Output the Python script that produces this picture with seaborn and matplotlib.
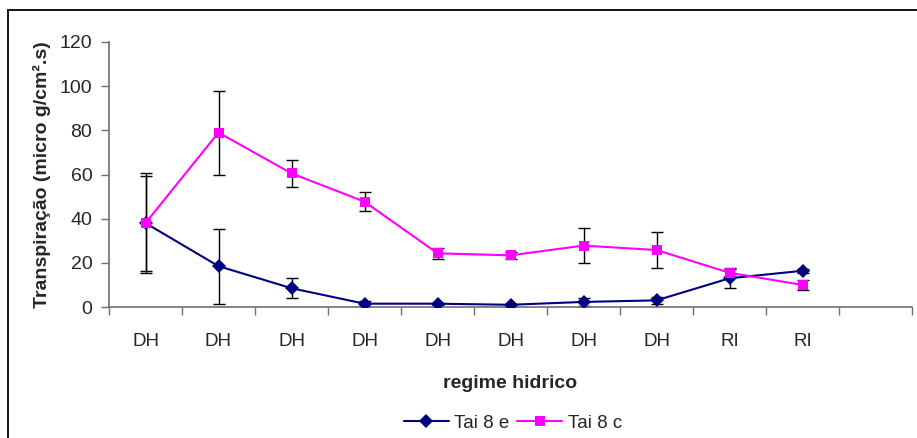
import numpy as np
import pandas as pd
import matplotlib.pyplot as plt
import seaborn as sns
from matplotlib.lines import Line2D
from matplotlib.patches import Rectangle

# Data
categories = ["DH", "DH", "DH", "DH", "DH", "DH", "DH", "DH", "RI", "RI"]
tai8e = [38.0, 18.5, 8.5, 1.5, 1.5, 1.0, 2.3, 3.0, 13.0, 16.4]
tai8e_err = [21.5, 17.0, 4.5, 1.0, 0.5, 0.5, 2.0, 1.5, 4.5, 1.0]
tai8c = [38.0, 79.0, 60.5, 47.7, 24.3, 23.4, 27.8, 25.8, 15.5, 10.0]
tai8c_err = [22.5, 19.0, 6.0, 4.4, 2.5, 1.5, 8.0, 8.0, 1.5, 2.4]
series = ["Tai 8 e", "Tai 8 c"]
colors = {"Tai 8 e": "#000080", "Tai 8 c": "#FF00FF"}
markers = {"Tai 8 e": "D", "Tai 8 c": "s"}

pos = np.arange(len(categories))
df = pd.DataFrame({
    "pos": np.concatenate([pos, pos]),
    "value": tai8e + tai8c,
    "serie": [series[0]] * len(pos) + [series[1]] * len(pos),
})

sns.set_style("ticks")
plt.rcParams["font.family"] = ["Liberation Sans", "DejaVu Sans"]

fig = plt.figure(figsize=(9.17, 4.38), dpi=100)
ax = fig.add_axes([109 / 917, 1 - 307 / 438, (912 - 109) / 917, (307 - 42) / 438])

# error bars first, underneath the markers
for vals, errs in [(tai8e, tai8e_err), (tai8c, tai8c_err)]:
    ax.errorbar(pos, vals, yerr=errs, fmt="none", ecolor="black",
                elinewidth=1, capsize=4.5, capthick=1, zorder=2)

sns.lineplot(data=df, x="pos", y="value", hue="serie", style="serie",
             palette=colors, markers=markers, dashes=False, markersize=7.5,
             markeredgewidth=0, linewidth=1.5, legend=False, ax=ax, zorder=3)

ax.set_xlim(-0.5, 10.5)
ax.set_ylim(0, 120)
ax.set_yticks(range(0, 121, 20))
ax.set_xticks(range(11))
ax.set_xticklabels(categories + [""])
ax.set_xticks(np.arange(-0.5, 11, 1), minor=True)
ax.tick_params(axis="x", which="major", length=0, pad=19, labelsize=13.5)
ax.tick_params(axis="x", which="minor", length=6, color="#6e6e6e", width=1)
ax.tick_params(axis="y", length=6, color="#6e6e6e", width=1, labelsize=14, pad=6)

sns.despine(ax=ax, top=True, right=True)
for s in ["left", "bottom"]:
    ax.spines[s].set_color("#6e6e6e")
    ax.spines[s].set_linewidth(1.2)

ax.set_xlabel("regime hidrico", fontsize=14, fontweight="bold", labelpad=18)
ax.set_ylabel("Transpiração (micro g/cm².s)", fontsize=14, fontweight="bold", labelpad=6)

handles = [Line2D([], [], color=colors[s], marker=markers[s], markersize=7,
                  markeredgewidth=0, linewidth=1.5) for s in series]
fig.legend(handles, series, loc="center", bbox_to_anchor=(513 / 917, 1 - 423 / 438),
           ncol=2, frameon=False, fontsize=13.5, handlelength=2.4,
           handletextpad=0.3, columnspacing=0.4)

# chart border like the spreadsheet chart area
fig.patches.append(Rectangle((8 / 917, -0.1), 1.0, 1 - 10 / 438 + 0.1,
                             transform=fig.transFigure, fill=False,
                             edgecolor="black", linewidth=1.3))

fig.savefig("out.png", dpi=100)
